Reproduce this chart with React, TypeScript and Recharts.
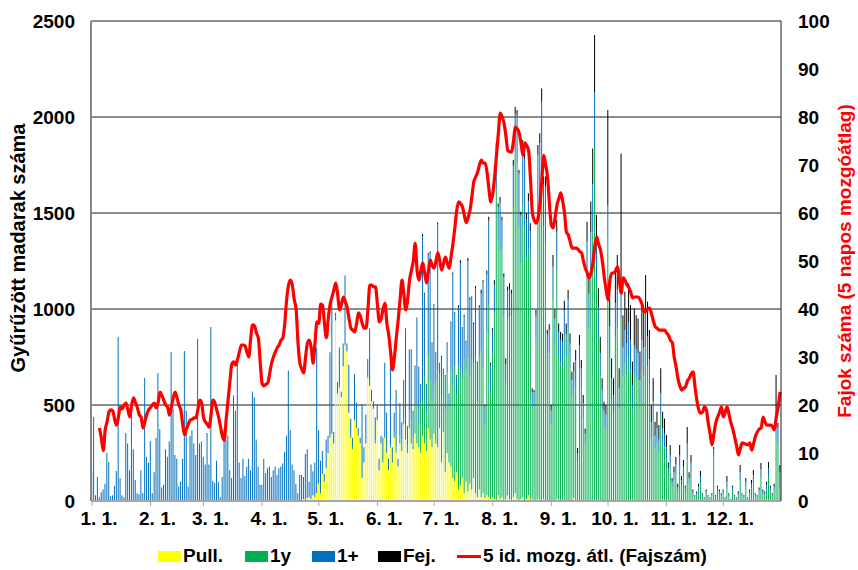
import { Bar, CartesianGrid, ComposedChart, Line, XAxis, YAxis } from "recharts";

const FONT = '"Liberation Sans", Arial, Helvetica, sans-serif';
const YELLOW = "#FFFF00";
const GREEN = "#00B050";
const BLUE = "#0070C0";
const BLACK = "#000000";
const RED = "#FF0000";

// x axis: first day of every month (day index in the year) + its label
const monthStarts = [0, 31, 59, 90, 120, 151, 181, 212, 243, 273, 304, 334];
const monthLabels = ["1. 1.", "2. 1.", "3. 1.", "4. 1.", "5. 1.", "6. 1.", "7. 1.", "8. 1.", "9. 1.", "10. 1.", "11. 1.", "12. 1."];
const leftTicks = [0, 500, 1000, 1500, 2000, 2500];
const rightTicks = [0, 10, 20, 30, 40, 50, 60, 70, 80, 90, 100];

// Pull. (daily birds ringed), one inner array per month
const pullByMonth: number[][] = [
  [0, 0, 0, 0, 0, 0, 0, 0, 0, 0, 0, 0, 0, 0, 0, 0, 0, 0, 0, 0, 0, 0, 0, 0, 0, 0, 0, 0, 0, 0, 0],
  [0, 0, 0, 0, 0, 0, 0, 0, 0, 0, 0, 0, 0, 0, 0, 0, 0, 0, 0, 0, 0, 0, 0, 0, 0, 0, 0, 0],
  [0, 0, 0, 0, 0, 0, 0, 0, 0, 0, 0, 0, 0, 0, 0, 0, 0, 0, 0, 0, 0, 0, 0, 0, 0, 0, 0, 0, 0, 0, 0],
  [0, 0, 0, 0, 0, 0, 0, 0, 0, 0, 0, 0, 0, 0, 0, 0, 0, 0, 0, 0, 0, 0, 10, 0, 15, 20, 10, 30, 20, 40],
  [90, 40, 140, 100, 170, 250, 330, 350, 300, 940, 560, 590, 540, 700, 810, 780, 460, 330, 270, 420, 380, 340, 300, 120, 200, 300, 640, 600, 520, 480, 300],
  [420, 160, 300, 200, 330, 250, 160, 280, 200, 330, 250, 180, 300, 260, 400, 320, 250, 380, 300, 270, 350, 300, 280, 250, 340, 300, 260, 380, 320, 280],
  [350, 300, 280, 380, 200, 360, 150, 250, 200, 180, 120, 100, 150, 60, 80, 120, 40, 100, 50, 90, 60, 120, 40, 20, 60, 20, 40, 15, 30, 20, 10],
  [20, 10, 0, 30, 10, 20, 0, 10, 30, 10, 0, 20, 40, 10, 0, 10, 20, 0, 10, 30, 0, 10, 0, 0, 10, 0, 0, 10, 0, 0, 0],
  [0, 0, 0, 10, 0, 0, 0, 5, 0, 0, 0, 0, 15, 0, 0, 0, 0, 0, 0, 0, 0, 0, 0, 0, 0, 0, 0, 0, 0, 0],
  [0, 0, 0, 0, 0, 0, 0, 0, 0, 0, 0, 0, 0, 0, 0, 0, 0, 0, 0, 0, 0, 0, 0, 0, 0, 0, 0, 0, 0, 0, 0],
  [0, 0, 0, 0, 0, 0, 0, 0, 0, 0, 0, 0, 0, 0, 0, 0, 0, 0, 0, 0, 0, 0, 0, 0, 0, 0, 0, 0, 0, 0],
  [0, 0, 0, 0, 0, 0, 0, 0, 0, 0, 0, 0, 0, 0, 0, 0, 0, 0, 0, 0, 0, 0, 0, 0, 0, 0, 0, 0, 0, 0, 0],
];

// 1y
const firstYearByMonth: number[][] = [
  [0, 0, 0, 0, 0, 0, 0, 0, 0, 0, 0, 0, 0, 0, 0, 0, 0, 0, 0, 0, 0, 0, 0, 0, 0, 0, 0, 0, 0, 0, 0],
  [0, 0, 0, 0, 0, 0, 0, 0, 0, 0, 0, 0, 0, 0, 0, 0, 0, 0, 0, 0, 0, 0, 0, 0, 0, 0, 0, 0],
  [0, 0, 0, 0, 0, 0, 0, 0, 0, 0, 0, 0, 0, 0, 0, 0, 0, 0, 0, 0, 0, 0, 0, 0, 0, 0, 0, 0, 0, 0, 0],
  [0, 0, 0, 0, 0, 0, 0, 0, 0, 0, 0, 0, 0, 0, 0, 0, 0, 0, 0, 0, 0, 0, 0, 0, 0, 0, 0, 0, 0, 0],
  [0, 0, 0, 0, 0, 0, 5, 0, 0, 0, 0, 10, 0, 0, 5, 0, 0, 0, 10, 0, 0, 0, 0, 5, 0, 0, 10, 0, 0, 0, 15],
  [0, 0, 0, 10, 0, 10, 0, 10, 0, 20, 30, 0, 40, 60, 30, 80, 40, 90, 120, 60, 150, 200, 120, 260, 180, 350, 200, 380, 310, 250],
  [250, 320, 400, 280, 350, 300, 320, 420, 300, 500, 480, 600, 400, 650, 600, 520, 700, 580, 700, 560, 680, 600, 720, 500, 700, 760, 650, 380, 850, 1000, 550],
  [750, 970, 1624, 1321, 1293, 1290, 966, 603, 917, 954, 960, 1506, 1774, 1747, 1424, 1227, 1520, 1431, 1259, 1283, 1256, 497, 488, 845, 1494, 1615, 1799, 1420, 1340, 770, 770],
  [400, 1050, 820, 1200, 760, 720, 700, 850, 760, 900, 700, 540, 560, 620, 200, 690, 590, 430, 290, 1150, 900, 1200, 1400, 1838, 1150, 850, 650, 480, 390, 370],
  [1370, 750, 520, 450, 850, 900, 480, 950, 650, 720, 660, 750, 680, 480, 660, 640, 630, 510, 680, 650, 800, 700, 600, 330, 420, 270, 300, 260, 450, 300, 280],
  [220, 130, 180, 70, 110, 140, 50, 180, 80, 130, 50, 220, 90, 150, 35, 20, 30, 55, 90, 25, 12, 35, 20, 12, 25, 230, 18, 50, 35, 25],
  [35, 12, 70, 25, 6, 50, 18, 12, 30, 110, 25, 18, 70, 12, 35, 65, 100, 25, 18, 40, 120, 35, 30, 60, 130, 50, 25, 55, 330, 300, 60],
];

// 1+
const adultByMonth: number[][] = [
  [151, 438, 30, 125, 20, 45, 60, 90, 250, 203, 25, 30, 80, 156, 854, 120, 30, 20, 354, 300, 160, 458, 270, 110, 40, 35, 160, 40, 640, 230, 200],
  [312, 40, 150, 330, 667, 375, 70, 85, 270, 230, 310, 776, 480, 240, 220, 75, 100, 220, 781, 470, 75, 340, 370, 300, 240, 844, 300, 310],
  [230, 190, 354, 190, 906, 105, 95, 210, 100, 20, 125, 375, 318, 340, 160, 120, 550, 470, 725, 200, 120, 220, 130, 180, 220, 160, 570, 540, 320, 180, 85],
  [85, 220, 145, 170, 180, 125, 160, 180, 135, 170, 180, 195, 255, 340, 680, 370, 190, 160, 90, 40, 135, 135, 115, 245, 255, 80, 180, 125, 180, 760],
  [280, 170, 120, 40, 150, 90, 440, 710, 60, 40, 60, 200, 30, 120, 360, 40, 250, 100, 50, 240, 130, 40, 30, 380, 80, 150, 90, 300, 60, 40, 120],
  [80, 60, 40, 120, 390, 200, 60, 440, 80, 110, 300, 40, 170, 90, 200, 500, 100, 320, 370, 140, 200, 450, 300, 100, 860, 430, 150, 520, 660, 290],
  [420, 150, 760, 60, 200, 30, 180, 150, 60, 250, 580, 280, 100, 300, 560, 260, 220, 150, 500, 400, 320, 200, 350, 200, 250, 300, 450, 100, 300, 440, 150],
  [120, 150, 200, 180, 250, 150, 200, 100, 150, 140, 120, 220, 200, 250, 280, 250, 300, 350, 200, 250, 150, 60, 80, 120, 300, 250, 280, 220, 300, 100, 120],
  [70, 170, 130, 190, 120, 120, 130, 140, 110, 150, 120, 90, 100, 110, 50, 120, 100, 80, 60, 200, 180, 200, 250, 292, 200, 160, 120, 100, 80, 80],
  [171, 160, 120, 100, 180, 200, 110, 160, 150, 170, 160, 180, 160, 120, 150, 150, 140, 120, 160, 150, 180, 160, 140, 80, 100, 70, 80, 60, 110, 80, 70],
  [60, 40, 60, 30, 40, 50, 20, 60, 30, 50, 20, 80, 30, 50, 15, 5, 10, 20, 40, 10, 5, 15, 5, 5, 10, 40, 7, 20, 15, 10],
  [15, 5, 30, 10, 2, 20, 7, 5, 12, 40, 10, 7, 30, 5, 15, 25, 35, 10, 7, 18, 45, 15, 12, 25, 40, 20, 10, 20, 80, 80, 90],
];

// Fej.
const fejByMonth: number[][] = [
  [0, 0, 0, 0, 0, 0, 0, 0, 0, 0, 0, 0, 0, 0, 0, 0, 0, 0, 0, 0, 0, 0, 0, 0, 0, 0, 0, 0, 0, 0, 0],
  [0, 0, 0, 0, 0, 0, 0, 0, 0, 0, 0, 0, 0, 0, 0, 0, 0, 0, 0, 0, 0, 0, 0, 0, 0, 0, 0, 0],
  [0, 0, 0, 0, 0, 0, 0, 0, 0, 0, 0, 0, 0, 0, 0, 0, 0, 0, 0, 0, 0, 0, 0, 0, 0, 0, 0, 0, 0, 0, 0],
  [0, 0, 0, 0, 0, 0, 0, 0, 0, 0, 0, 0, 0, 0, 0, 0, 0, 0, 0, 0, 0, 0, 0, 0, 0, 0, 0, 0, 0, 0],
  [0, 0, 0, 0, 0, 0, 0, 0, 0, 0, 0, 0, 0, 0, 0, 0, 0, 0, 0, 0, 0, 0, 0, 0, 0, 0, 0, 0, 0, 0, 0],
  [0, 0, 0, 0, 0, 0, 0, 0, 0, 0, 0, 0, 0, 0, 0, 0, 0, 0, 0, 0, 5, 5, 0, 0, 10, 5, 0, 10, 10, 5],
  [5, 5, 10, 0, 5, 0, 5, 5, 0, 5, 10, 5, 5, 10, 15, 5, 10, 5, 15, 10, 5, 10, 10, 5, 10, 20, 10, 5, 20, 20, 10],
  [10, 20, 40, 20, 30, 20, 20, 30, 20, 30, 20, 30, 40, 30, 20, 20, 40, 30, 30, 40, 40, 20, 10, 30, 50, 50, 70, 40, 50, 20, 30],
  [30, 61, 50, 65, 45, 42, 43, 48, 55, 49, 53, 44, 48, 56, 26, 55, 44, 42, 28, 105, 97, 160, 186, 297, 140, 98, 86, 59, 47, 50],
  [495, 146, 103, 89, 182, 181, 101, 700, 168, 200, 183, 204, 181, 126, 193, 178, 181, 148, 181, 185, 197, 178, 151, 90, 119, 73, 85, 76, 131, 85, 80],
  [64, 30, 52, 20, 30, 39, 20, 52, 20, 34, 10, 85, 30, 40, 10, 5, 10, 15, 26, 5, 3, 10, 5, 3, 5, 11, 5, 10, 10, 5],
  [10, 3, 30, 5, 2, 10, 5, 3, 8, 37, 5, 5, 20, 3, 10, 20, 26, 5, 5, 12, 33, 10, 8, 15, 33, 10, 5, 15, 246, 26, 37],
];

// 5 day moving average of the species count (right axis)
const avgByMonth: (number | null)[][] = [
  [null, null, null, null, 15.2, 13, 10.5, 14.8, 16.5, 18.5, 19, 18.8, 17, 15.8, 17.5, 19.6, 19.2, 20, 20.4, 19, 17.5, 20, 21.5, 20.5, 19.5, 18, 17.5, 15.2, 16.5, 18, 19],
  [19.5, 20, 20.4, 19.4, 20.5, 22.7, 22, 21, 20, 19.6, 17.9, 19.5, 21.5, 22.7, 21.5, 20, 19, 16, 13.8, 15, 16, 16.9, 17, 17.3, 17.3, 19, 21, 20.5],
  [17.5, 16.5, 16, 15.4, 18, 21, 20.5, 19, 17.5, 15.5, 13.5, 12.7, 17, 21, 25, 28.5, 29, 28.3, 29.5, 31, 32.5, 32.5, 32.3, 31, 30, 34, 36.7, 36.5, 35, 34, 29],
  [24.5, 24, 24.3, 24.6, 26.5, 28.7, 30, 31, 31.9, 32.5, 33.5, 34, 37, 42, 45, 46, 45, 42, 40, 33, 28.7, 27.5, 26.7, 30, 32.9, 33.5, 32, 28.7, 33, 37.3],
  [37, 41, 40.8, 37, 34, 38, 41, 42.5, 44, 45.4, 43, 39.8, 41, 42.5, 41.5, 40.4, 38, 36, 35.6, 35.2, 37, 39.2, 38.5, 37, 36, 36, 40, 45, 45, 44.6, 44.6],
  [41, 37.3, 38, 40, 41.2, 37, 34.6, 31, 27.3, 30, 34, 37.7, 42, 46, 43, 39.8, 42, 46, 48, 50, 53.7, 48, 46, 48, 49.6, 47.5, 45.4, 48, 50.2, 49],
  [48.5, 50, 51.7, 50, 48.1, 49.5, 50.8, 49.5, 48.5, 51, 53.7, 57, 60.6, 62.3, 62, 61.3, 59.5, 58, 59, 60.6, 63.5, 66.5, 67.5, 68.5, 70, 71, 70.4, 70.4, 68.5, 65, 62.3],
  [64, 67.5, 72, 76.7, 80.8, 80, 78.7, 76, 73, 72.8, 72.7, 75, 77.9, 77.5, 76.7, 74.5, 72, 74.6, 74, 73, 67, 60, 58.5, 57.9, 59, 62, 67, 72, 70, 67.5, 62],
  [57.5, 56.9, 59, 61.7, 63, 64.2, 62.5, 60, 56, 55.4, 54, 52.7, 52.7, 52.7, 52.5, 52, 51.7, 50, 48.5, 47.5, 46.5, 47.5, 49.6, 53, 55, 53.5, 52.3, 50, 46.7, 44],
  [41.9, 46, 47.5, 47.5, 48, 48.8, 46, 43.3, 46.5, 46, 45, 44.5, 43.5, 42.3, 42.5, 42.5, 42.5, 41.9, 41, 39.4, 39.5, 40, 40.2, 39, 37.5, 36.3, 36, 35.6, 35.6, 35.6, 35.6],
  [35, 34.5, 33.5, 33, 30, 28, 25.5, 24, 23.1, 23.5, 23.8, 25, 25.6, 26.5, 26.9, 23.8, 21, 19, 18.3, 18.5, 19.6, 19, 16.3, 14, 11.7, 14, 16.3, 17.5, 18.5, 19.6],
  [17.5, 18.5, 19.6, 18, 16.3, 15, 13.3, 11.5, 9.6, 11, 12.1, 12, 11.8, 11.7, 12.1, 10.6, 12, 13.5, 14.4, 15, 15.2, 17.5, 16.5, 15.8, 15.8, 15.8, 15.5, 14.8, 17.5, 19.6, 22.7],
];

const pull = pullByMonth.flat();
const firstYear = firstYearByMonth.flat();
const adult = adultByMonth.flat();
const fej = fejByMonth.flat();
const avg = avgByMonth.flat();

const data = pull.map((p, i) => ({
  day: i,
  pull: p,
  firstYear: firstYear[i],
  adult: adult[i],
  fej: fej[i],
  avg: avg[i],
}));

const tickFont = { fill: "#000", fontSize: 19, fontWeight: 700, fontFamily: FONT };

function MonthTick(props: any) {
  const { x, y, payload } = props;
  const idx = monthStarts.indexOf(payload.value);
  return (
    <text x={x + 7} y={y} dy="0.71em" textAnchor="middle" {...tickFont}>
      {monthLabels[idx]}
    </text>
  );
}

const legendItems = [
  { label: "Pull.", color: YELLOW, left: 158 },
  { label: "1y", color: GREEN, left: 245 },
  { label: "1+", color: BLUE, left: 312 },
  { label: "Fej.", color: BLACK, left: 378 },
];

export default function App() {
  return (
    <div
      style={{
        position: "absolute",
        left: 0,
        top: 0,
        width: 858,
        height: 570,
        background: "#fff",
        fontFamily: FONT,
        overflow: "hidden",
      }}
    >
      <ComposedChart
        width={858}
        height={570}
        data={data}
        margin={{ top: 21, right: 0, bottom: 0, left: 0 }}
        barCategoryGap="12%"
        barGap={0}
      >
        <CartesianGrid yAxisId="left" vertical={false} stroke="#1a1a1a" strokeWidth={1} />
        <XAxis
          dataKey="day"
          type="category"
          ticks={monthStarts}
          interval={0}
          height={69}
          tickSize={5}
          tickMargin={6}
          tick={(p: any) => <MonthTick {...p} />}
          tickLine={{ stroke: "#a6a6a6" }}
          axisLine={{ stroke: "#a6a6a6", strokeWidth: 2 }}
        />
        <YAxis
          yAxisId="left"
          domain={[0, 2500]}
          ticks={leftTicks}
          width={91}
          tick={tickFont}
          tickLine={false}
          tickMargin={10}
          axisLine={{ stroke: "#868686", strokeWidth: 2 }}
        />
        <YAxis
          yAxisId="right"
          orientation="right"
          domain={[0, 100]}
          ticks={rightTicks}
          width={77}
          tick={tickFont}
          tickLine={false}
          tickMargin={11}
          axisLine={{ stroke: "#1a1a1a" }}
        />
        <Bar yAxisId="left" dataKey="pull" stackId="a" fill={YELLOW} isAnimationActive={false} />
        <Bar yAxisId="left" dataKey="firstYear" stackId="a" fill={GREEN} isAnimationActive={false} />
        <Bar yAxisId="left" dataKey="adult" stackId="a" fill={BLUE} isAnimationActive={false} />
        <Bar yAxisId="left" dataKey="fej" stackId="a" fill={BLACK} isAnimationActive={false} />
        <Line
          yAxisId="right"
          dataKey="avg"
          type="monotone"
          stroke={RED}
          strokeWidth={3.2}
          dot={false}
          activeDot={false}
          isAnimationActive={false}
        />
      </ComposedChart>

      {/* axis titles */}
      <div
        style={{
          position: "absolute",
          left: 18,
          top: 248,
          transform: "translate(-50%, -50%) rotate(-90deg)",
          whiteSpace: "nowrap",
          fontSize: 20,
          fontWeight: 700,
          color: "#000",
        }}
      >
        Gyűrűzött madarak száma
      </div>
      <div
        style={{
          position: "absolute",
          left: 845,
          top: 261,
          transform: "translate(-50%, -50%) rotate(-90deg)",
          whiteSpace: "nowrap",
          fontSize: 19,
          fontWeight: 700,
          color: RED,
        }}
      >
        Fajok száma (5 napos mozgóátlag)
      </div>

      {/* legend */}
      {legendItems.map((it) => (
        <div
          key={it.label}
          style={{ position: "absolute", left: it.left, top: 545, display: "flex", alignItems: "center", height: 22 }}
        >
          <span style={{ display: "inline-block", width: 23, height: 11, background: it.color, marginRight: 2 }} />
          <span style={{ fontSize: 19, fontWeight: 700 }}>{it.label}</span>
        </div>
      ))}
      <div style={{ position: "absolute", left: 457, top: 545, display: "flex", alignItems: "center", height: 22 }}>
        <span style={{ display: "inline-block", width: 24, height: 3, background: RED, marginRight: 2 }} />
        <span style={{ fontSize: 19, fontWeight: 700 }}>5 id. mozg. átl. (Fajszám)</span>
      </div>
    </div>
  );
}
